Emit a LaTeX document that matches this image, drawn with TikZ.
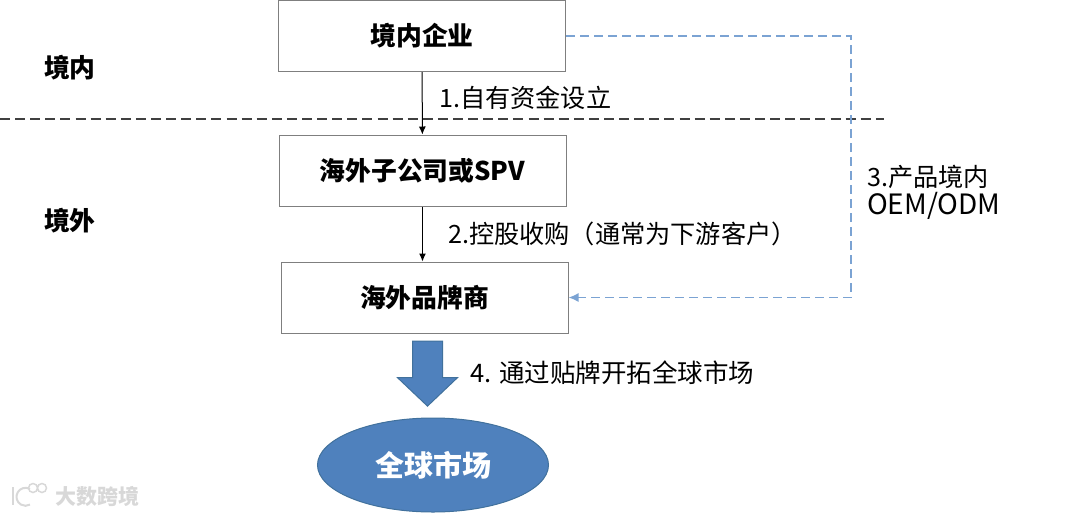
\documentclass[tikz,border=0pt]{standalone}
\usepackage{fontspec}
\setmainfont{Noto Sans CJK SC}
\usepackage{tikz}
\usetikzlibrary{positioning,shapes,shapes.arrows,arrows.meta}
\definecolor{boxgray}{HTML}{7F7F7F}
\definecolor{dashblue}{HTML}{7BA3D3}
\definecolor{fillblue}{HTML}{4F81BD}
\definecolor{edgeblue}{HTML}{41719C}
\definecolor{markgray}{HTML}{D8D8D8}
\begin{document}
\begin{tikzpicture}[x=1pt,y=-1pt,
  firmbox/.style={draw=boxgray, line width=1pt, minimum width=287pt, minimum height=71pt, inner sep=0pt, font=\fontsize{25.8}{30}\selectfont\bfseries},
  steplabel/.style={anchor=west, inner sep=0pt, align=left, font=\fontsize{25.2}{28}\selectfont},
  regionlabel/.style={anchor=west, inner sep=0pt, font=\fontsize{25.8}{30}\selectfont\bfseries},
  solidarrow/.style={line width=1pt, -{Latex[length=8pt,width=7pt]}},
  bluearrow/.style={draw=dashblue, line width=1.5pt, dash pattern=on 9pt off 5pt, -{Latex[length=10pt,width=9pt]}}]
\useasboundingbox (0,0) rectangle (1080,515);
\node[firmbox] (qiye) at (422,36){境内企业};
\node[firmbox] (spv) at (422.5,170.5){海外子公司或SPV};
\node[firmbox] (pinpai) at (424.5,297.5){海外品牌商};
\node[ellipse, draw=edgeblue, fill=fillblue, line width=1pt, minimum width=231pt, minimum height=94pt, inner sep=0pt, text=white, font=\fontsize{29}{34}\selectfont\bfseries] (market) at (433,465){全球市场};
\node[single arrow, draw=edgeblue, fill=fillblue, line width=1pt, rotate=-90, minimum height=65pt, inner xsep=0pt, inner ysep=14.5pt, single arrow head extend=15pt, single arrow tip angle=93] (bigarrow) at (427.5,366.5){};
\node[regionlabel] (jingnei) at (44,68){境内};
\node[regionlabel] (jingwai) at (44,221){境外};
\node[steplabel] (s1) at (439,98){1.自有资金设立};
\node[steplabel] (s2) at (448,234){2.控股收购（通常为下游客户）};
\node[steplabel] (s3) at (867,192){3.产品境内\\{\fontsize{28}{28}\selectfont OEM/ODM}};
\node[steplabel] (s4) at (470,373){\fontsize{25.5}{28}\selectfont 4. 通过贴牌开拓全球市场};
\coordinate (d1) at (0,119);
\coordinate (d2) at (884,119);
\coordinate (c1) at (851,36);
\coordinate (c2) at (851,297.5);
\draw[line width=1.2pt, black!75, dash pattern=on 10pt off 5.1pt] (d1) -- (d2);
\draw[solidarrow] (qiye) -- (spv);
\draw[solidarrow] (spv.south) -- (spv.south |- pinpai.north);
\draw[bluearrow] (qiye.east) -- (c1) -- (c2) -- (pinpai.east);
% watermark
\node[anchor=west, inner sep=0pt, text=markgray, font=\fontsize{21}{25}\selectfont\bfseries] (mark) at (55,496){大数跨境};
\draw[markgray, line width=2pt] (13,487) -- (13,505);
\draw[markgray, line width=2pt] (30,489) arc (60:300:9pt and 9pt);
\draw[markgray, line width=1.5pt] (33,488) circle (4.5pt) (42,488) circle (4.5pt);
\end{tikzpicture}
\end{document}
